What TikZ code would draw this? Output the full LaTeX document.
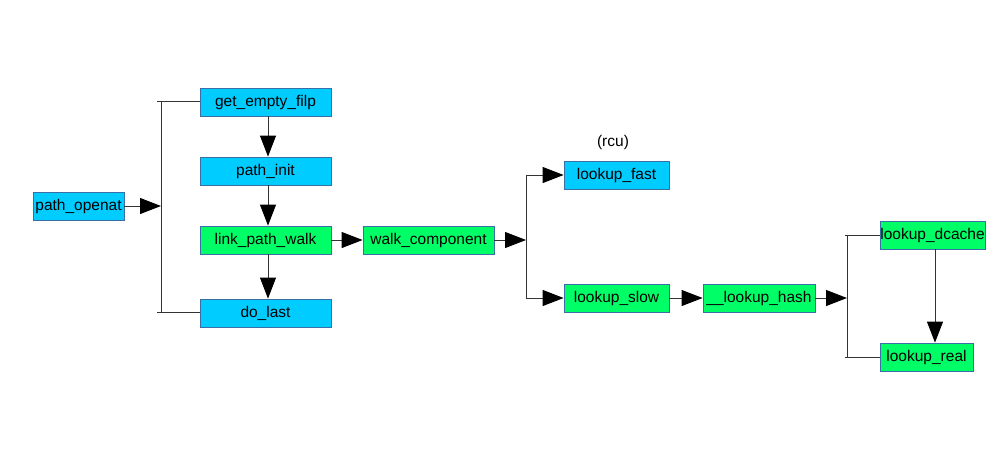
\documentclass[tikz,border=0pt]{standalone}
\usepackage{fontspec}
\setmainfont{Liberation Sans}
\usetikzlibrary{arrows.meta}
\definecolor{boxblue}{HTML}{00CCFF}
\definecolor{boxgreen}{HTML}{00FF66}
\definecolor{boxline}{HTML}{3A6EA5}
\definecolor{wire}{HTML}{333333}

\begin{document}
\begin{tikzpicture}[x=1pt,y=-1pt,
  fn/.style={draw=boxline, line width=0.8pt, minimum height=28pt, inner sep=0pt,
             font=\fontsize{15.5}{18}\selectfont, text=black},
  bluefn/.style={fn, fill=boxblue},
  greenfn/.style={fn, fill=boxgreen},
  link/.style={line width=1pt, draw=wire},
  flow/.style={link, -{Triangle[length=21pt,width=16pt,color=black,fill=black]}}
]
\useasboundingbox (0,0) rectangle (1004,451);

% call chain boxes
\node[bluefn, minimum width=91pt]  (openat)   at (78.5,206)  {path\_openat};
\node[bluefn, minimum width=131pt] (getfilp)  at (265.5,102) {get\_empty\_filp};
\node[bluefn, minimum width=131pt] (pathinit) at (265.5,171) {path\_init};
\node[greenfn,minimum width=131pt] (linkwalk) at (265.5,240) {link\_path\_walk};
\node[bluefn, minimum width=131pt] (dolast)   at (265.5,313) {do\_last};
\node[greenfn,minimum width=131pt] (walkcomp) at (428.5,240) {walk\_component};
\node[bluefn, minimum width=105pt] (fast)     at (616.5,175) {lookup\_fast};
\node[greenfn,minimum width=105pt] (slow)     at (616.5,298) {lookup\_slow};
\node[greenfn,minimum width=112pt] (hash)     at (759,298)   {\_\_lookup\_hash};
\node[greenfn,minimum width=105pt] (dcache)   at (932.5,235) {lookup\_dcache};
\node[greenfn,minimum width=93pt]  (real)     at (926.5,357) {lookup\_real};
\node[font=\fontsize{15.5}{18}\selectfont] (rcu) at (613,142) {(rcu)};

% junction points of the fan-outs
\coordinate (j1) at (161,206);
\coordinate (j1top) at (157,101);
\coordinate (j1bot) at (157,312);
\coordinate (j2) at (526,240);
\coordinate (j3) at (847,298);
\coordinate (j3top) at (845,235);
\coordinate (j3bot) at (845,357);

% path_openat fan-out
\draw[flow] (openat.east) -- (j1);
\draw[link] (j1 |- j1top) -- (j1 |- j1bot);
\draw[link] (j1top) -- (getfilp.west |- j1top);
\draw[link] (j1bot) -- (dolast.west |- j1bot);

% sequential calls
\draw[flow] ([xshift=2.5pt]getfilp.south) -- ([xshift=2.5pt]pathinit.north);
\draw[flow] ([xshift=2.5pt]pathinit.south) -- ([xshift=2.5pt]linkwalk.north);
\draw[flow] ([xshift=2.5pt]linkwalk.south) -- ([xshift=2.5pt]dolast.north);
\draw[flow] (linkwalk.east) -- (walkcomp.west);

% walk_component fan-out
\draw[flow] (walkcomp.east) -- (j2);
\draw[link] (j2 |- fast) -- (j2 |- slow);
\draw[flow] (j2 |- fast) -- (fast.west);
\draw[flow] (j2 |- slow) -- (slow.west);
\draw[flow] (slow.east) -- (hash.west);

% __lookup_hash fan-out
\draw[flow] (hash.east) -- (j3);
\draw[link] (j3 |- j3top) -- (j3 |- j3bot);
\draw[link] (j3top) -- (dcache.west);
\draw[link] (j3bot) -- (real.west);
\draw[flow] ([xshift=2.5pt]dcache.south) -- ([xshift=2.5pt]dcache.south |- real.north);
\end{tikzpicture}
\end{document}
